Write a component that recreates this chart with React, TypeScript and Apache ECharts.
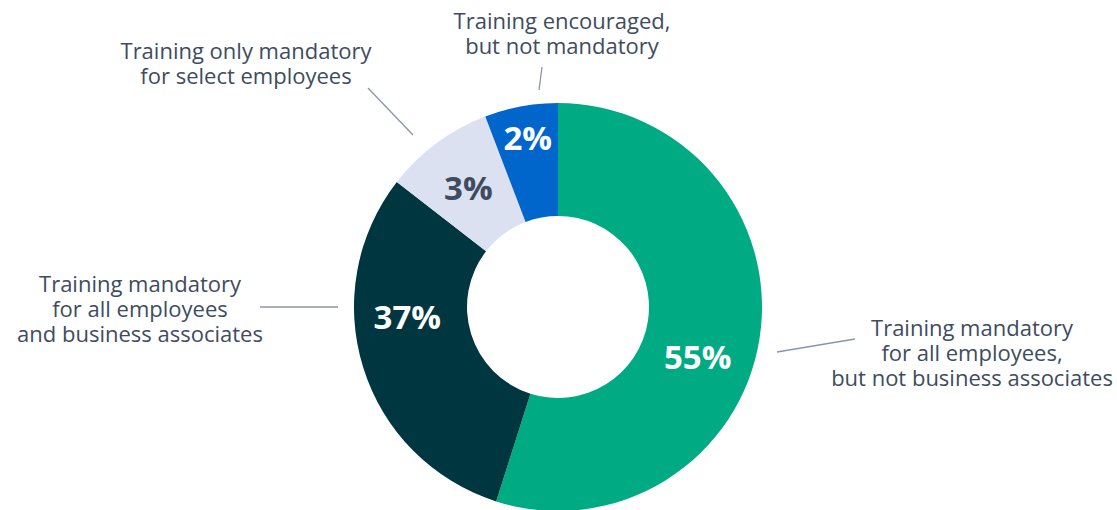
import React, { useEffect, useRef } from "react";
import * as echarts from "echarts";

// ---- data ----
const categories = [
  "Training mandatory\nfor all employees,\nbut not business associates",
  "Training mandatory\nfor all employees\nand business associates",
  "Training only mandatory\nfor select employees",
  "Training encouraged,\nbut not mandatory",
];
// slice sizes as drawn in the picture
const sliceValues = [54.9, 30.6, 8.7, 5.8];
// percentage labels as printed
const pctLabels = ["55%", "37%", "3%", "2%"];

// ---- styles / layout ----
const colors = ["#00AB83", "#003640", "#DCE1F2", "#0066CC"];
const pctColors = ["#ffffff", "#ffffff", "#3E4C61", "#ffffff"];
const pctOffsets = [[-9, 26], [-7, -35], [0, 1], [-3, -21]];
const annoPos = [
  { x: 972, y: 327, line: [[777, 352], [855, 339]] },
  { x: 140, y: 283, line: [[260, 307], [338, 307]] },
  { x: 246, y: 50, line: [[368, 88], [413, 135]] },
  { x: 562, y: 20, line: [[542, 67], [539, 90]] },
];
const textColor = "#3E4C61";
const lineColor = "#8A96AD";
const FONT = "'Open Sans', 'Noto Sans', sans-serif";

export default function App() {
  const ref = useRef<HTMLDivElement>(null);
  useEffect(() => {
    document.body.style.margin = "0";
    const chart = echarts.init(ref.current!, null, { renderer: "svg" });
    const graphics: any[] = [];
    categories.forEach((c, i) => {
      const a = annoPos[i];
      graphics.push({
        type: "text",
        x: a.x,
        y: a.y - 13,
        style: {
          text: c,
          fill: textColor,
          font: `400 22px ${FONT}`,
          textAlign: "center",
          textVerticalAlign: "top",
          lineHeight: 25,
        },
      });
      graphics.push({
        type: "line",
        shape: { x1: a.line[0][0], y1: a.line[0][1], x2: a.line[1][0], y2: a.line[1][1] },
        style: { stroke: lineColor, lineWidth: 1.3 },
      });
    });
    chart.setOption({
      animation: false,
      backgroundColor: "#ffffff",
      graphic: graphics,
      series: [
        {
          type: "pie",
          center: [558, 307],
          radius: [91, 204],
          startAngle: 90,
          clockwise: true,
          silent: true,
          itemStyle: { borderWidth: 0 },
          label: {
            show: true,
            position: "inside",
            fontFamily: FONT,
            fontWeight: 700,
            fontSize: 33,
          },
          labelLine: { show: false },
          data: sliceValues.map((v, i) => ({
            value: v,
            name: categories[i],
            itemStyle: { color: colors[i] },
            label: {
              formatter: pctLabels[i],
              color: pctColors[i],
              offset: pctOffsets[i],
            },
          })),
        },
      ],
    });
    return () => chart.dispose();
  }, []);
  return <div ref={ref} style={{ width: 1117, height: 510 }} />;
}
